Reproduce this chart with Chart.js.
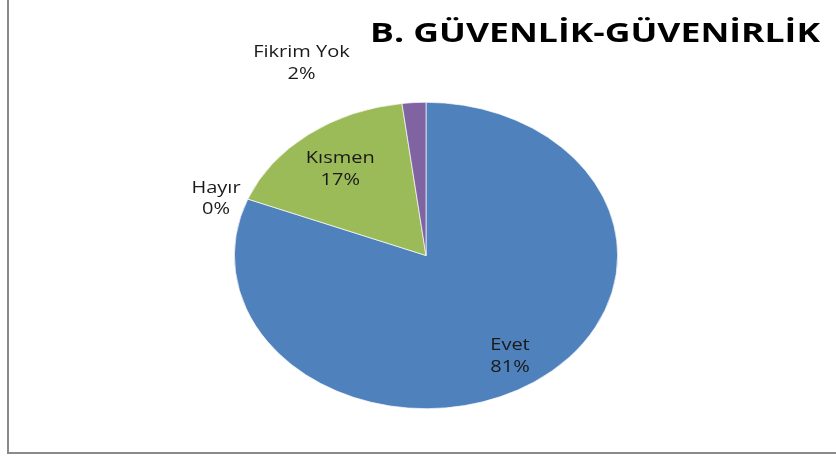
<!DOCTYPE html>
<html>
<head>
<meta charset="utf-8">
<script src="https://cdn.jsdelivr.net/npm/chart.js@4/dist/chart.umd.min.js"></script>
<style>
  html, body { margin: 0; padding: 0; background: #ffffff; }
  #wrap { width: 836px; height: 456px; position: relative; }
</style>
</head>
<body>
<div id="wrap"><canvas id="c" width="836" height="456"></canvas></div>
<script>
// ---- data ----
const categories = ['Evet', 'Hayır', 'Kısmen', 'Fikrim Yok'];
const values = [81, 0, 17, 2];
const percentLabels = ['81%', '0%', '17%', '2%'];
const titleText = 'B. GÜVENLİK-GÜVENİRLİK';

// ---- style ----
const colors = ['#4F81BD', '#C0504D', '#9BBB59', '#8064A2'];
const ellipseScaleX = 192 / 153.5;   // the whole picture is stretched horizontally
const labelFont = '16px "Open Sans", sans-serif';
// outside label anchors (layout: centre between the two lines)
const outsideLabelPos = { 1: [216, 196.5], 3: [301.5, 61] };
const insideLabelFrac = [0.78, 0, 0.73, 0];
const lineGap = 21.5;
const labelDy = 2.2;

function stretchedText(ctx, text, x, y, sx) {
  ctx.save();
  ctx.translate(x, y);
  ctx.scale(sx, 1);
  ctx.fillText(text, 0, 0);
  ctx.restore();
}

const ellipsePlugin = {
  id: 'ellipse',
  beforeDatasetsDraw(chart) {
    const arc = chart.getDatasetMeta(0).data[0];
    const ctx = chart.ctx;
    ctx.save();
    ctx.translate(arc.x, 0);
    ctx.scale(ellipseScaleX, 1);
    ctx.translate(-arc.x, 0);
  },
  afterDatasetsDraw(chart) {
    chart.ctx.restore();
  }
};

const decorPlugin = {
  id: 'decor',
  beforeDraw(chart) {
    const ctx = chart.ctx;
    ctx.save();
    ctx.fillStyle = '#ffffff';
    ctx.fillRect(0, 0, chart.width, chart.height);
    ctx.strokeStyle = '#8a8a8a';
    ctx.lineWidth = 2;
    ctx.beginPath();
    ctx.moveTo(8, 0);
    ctx.lineTo(8, 453);
    ctx.lineTo(836, 453);
    ctx.stroke();
    ctx.restore();
  },
  afterDraw(chart) {
    const ctx = chart.ctx;
    const meta = chart.getDatasetMeta(0);
    ctx.save();
    // title (right edge at 820, stretched to ~450px wide)
    ctx.font = 'bold 26px "Open Sans", sans-serif';
    ctx.fillStyle = '#000000';
    ctx.textAlign = 'right';
    ctx.textBaseline = 'alphabetic';
    const tw = ctx.measureText(titleText).width;
    stretchedText(ctx, titleText, 820, 41.5, 450 / tw);
    // labels
    ctx.font = labelFont;
    ctx.fillStyle = '#1a1a1a';
    ctx.textAlign = 'center';
    ctx.textBaseline = 'middle';
    meta.data.forEach((arc, i) => {
      let x, y;
      if (outsideLabelPos[i]) {
        [x, y] = outsideLabelPos[i];
      } else {
        const mid = (arc.startAngle + arc.endAngle) / 2;
        const r = arc.outerRadius * insideLabelFrac[i];
        x = arc.x + Math.cos(mid) * r * ellipseScaleX;
        y = arc.y + Math.sin(mid) * r;
      }
      y += labelDy;
      stretchedText(ctx, categories[i], x, y - lineGap / 2, ellipseScaleX);
      stretchedText(ctx, percentLabels[i], x, y + lineGap / 2, ellipseScaleX);
    });
    ctx.restore();
  }
};

new Chart(document.getElementById('c'), {
  type: 'pie',
  data: {
    labels: categories,
    datasets: [{
      data: values,
      backgroundColor: colors,
      borderColor: '#ffffff',
      borderWidth: 0.6
    }]
  },
  options: {
    responsive: false,
    animation: false,
    layout: { padding: { top: 102, bottom: 47, left: 272.5, right: 256.5 } },
    plugins: {
      legend: { display: false },
      title: { display: false },
      tooltip: { enabled: false }
    }
  },
  plugins: [ellipsePlugin, decorPlugin]
});
</script>
</body>
</html>
